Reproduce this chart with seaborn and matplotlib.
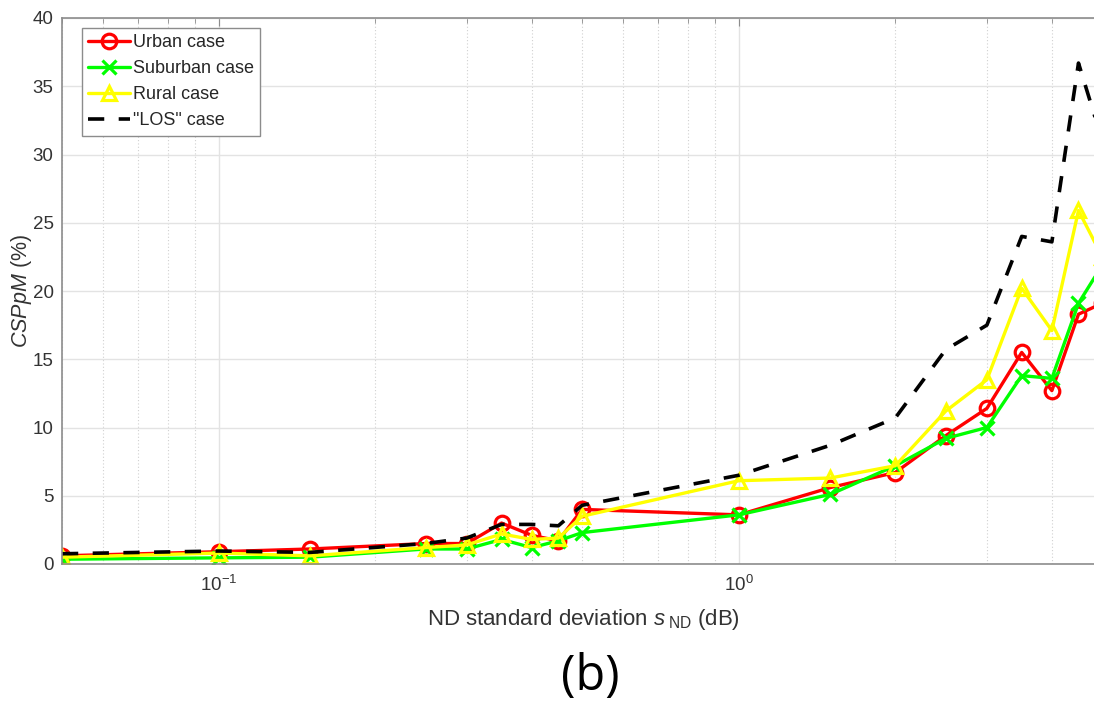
import matplotlib
matplotlib.use("Agg")
import matplotlib.pyplot as plt
import matplotlib.ticker as mticker
import numpy as np
import pandas as pd
import seaborn as sns

# ---- data ----
sigma_nd = [0.05, 0.1, 0.15, 0.25, 0.3, 0.35, 0.4, 0.45, 0.5, 1.0, 1.5, 2.0, 2.5, 3.0, 3.5, 4.0, 4.5, 5.0]
urban    = [0.6, 0.9, 1.1, 1.5, 1.5, 3.0, 2.1, 1.7, 4.0, 3.6, 5.6, 6.7, 9.4, 11.4, 15.5, 12.7, 18.3, 19.1]
suburban = [0.35, 0.45, 0.5, 1.1, 1.1, 1.8, 1.2, 1.7, 2.3, 3.6, 5.1, 7.2, 9.2, 10.0, 13.8, 13.6, 19.1, 21.9]
rural    = [0.5, 0.8, 0.6, 1.2, 1.4, 2.2, 1.8, 1.9, 3.5, 6.1, 6.3, 7.2, 11.2, 13.5, 20.2, 17.1, 25.9, 22.5]
los      = [0.75, 0.95, 0.85, 1.5, 1.9, 2.9, 2.9, 2.8, 4.3, 6.5, 8.7, 10.7, 15.7, 17.5, 24.0, 23.6, 36.7, 31.0]
series_labels = ["Urban case", "Suburban case", "Rural case", '"LOS" case']
y_ticks = [0, 5, 10, 15, 20, 25, 30, 35, 40]

sns.set_style("white")
plt.rcParams["font.family"] = ["Liberation Sans", "DejaVu Sans"]
plt.rcParams["mathtext.fontset"] = "custom"
plt.rcParams["mathtext.rm"] = "Liberation Sans"
plt.rcParams["mathtext.it"] = "Liberation Sans:italic"
plt.rcParams["mathtext.bf"] = "Liberation Sans:bold"

fig = plt.figure(figsize=(10.94, 7.02), dpi=100)
ax = fig.add_axes([62 / 1094, 138 / 702, 1032 / 1094, 546 / 702])

styles = [
    dict(color="#ff0000", marker="o"),
    dict(color="#00ff00", marker="x"),
    dict(color="#ffff00", marker="^"),
]
for vals, lab, st in zip([urban, suburban, rural], series_labels[:3], styles):
    sns.lineplot(x=sigma_nd, y=vals, ax=ax, color=st["color"], marker=st["marker"],
                 markersize=10.5, markerfacecolor="none", markeredgecolor=st["color"],
                 markeredgewidth=2.3, linewidth=2.4, label=lab, sort=False, estimator=None)
sns.lineplot(x=sigma_nd, y=los, ax=ax, color="black", linewidth=2.6,
             linestyle=(0, (4.5, 4)), label=series_labels[3], sort=False, estimator=None)

ax.set_xscale("log")
ax.set_xlim(0.05, 4.82)
ax.set_ylim(0, 40)
ax.set_yticks(y_ticks)
ax.xaxis.set_major_locator(mticker.LogLocator(base=10, numticks=10))
ax.xaxis.set_minor_locator(mticker.LogLocator(base=10, subs=np.arange(2, 10), numticks=10))
ax.xaxis.set_minor_formatter(mticker.NullFormatter())

ax.grid(True, which="major", axis="both", color="#e3e3e3", linewidth=1.0, linestyle="-")
ax.grid(True, which="minor", axis="x", color="#d0d0d0", linewidth=0.8, linestyle=(0, (1, 2)))
ax.set_axisbelow(True)

for s in ["left", "bottom", "top"]:
    ax.spines[s].set_color("#8c8c8c")
    ax.spines[s].set_linewidth(1.2)
ax.spines["right"].set_visible(False)
ax.tick_params(which="both", direction="in", top=True, right=False, colors="#8c8c8c",
               labelcolor="#333333", labelsize=13.5)
ax.tick_params(which="major", length=6)
ax.tick_params(which="minor", length=3.5)
ax.tick_params(axis="x", pad=8)
ax.tick_params(axis="y", pad=6)
ax.set_xlabel("")
ax.set_ylabel("")

fig.text(21 / 1094, 1 - 291 / 702, r"$\it{CSPpM}$ (%)", rotation=90, ha="center", va="center",
         fontsize=15.5, color="#333333")
fig.text(583 / 1094, 1 - 620 / 702, r"ND standard deviation $\it{s}_{\;\mathrm{ND}}$ (dB)",
         ha="center", va="center", fontsize=16, color="#333333")
fig.text(590 / 1094, 1 - 677 / 702, "(b)", ha="center", va="center", fontsize=35, color="black",
         family=["Open Sans", "DejaVu Sans"])

leg = ax.legend(loc="upper left", bbox_to_anchor=(20 / 1032, 536 / 546), borderaxespad=0,
                fancybox=False, framealpha=1, edgecolor="#8c8c8c", fontsize=13.0,
                handlelength=2.3, handletextpad=0.15, labelspacing=0.5, borderpad=0.35,
                numpoints=1)
leg.get_frame().set_linewidth(1.0)

fig.savefig("out.png", dpi=100)
